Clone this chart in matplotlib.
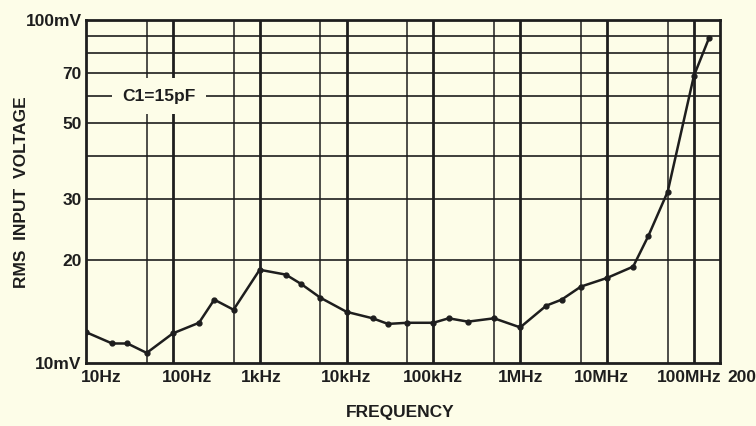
import numpy as np
import matplotlib
matplotlib.use("Agg")
import matplotlib.pyplot as plt
from matplotlib.ticker import FixedLocator, NullFormatter

plt.rcParams['font.family'] = ['Liberation Sans Narrow', 'Liberation Sans', 'DejaVu Sans']
plt.rcParams['font.weight'] = 'bold'

# frequency (Hz) and rms input voltage (mV)
freq = [10, 20, 30, 50, 100, 200, 300, 500,
        1e3, 2e3, 3e3, 5e3, 10e3, 20e3, 30e3, 50e3, 100e3, 150e3, 250e3, 500e3,
        1e6, 2e6, 3e6, 5e6, 10e6, 20e6, 30e6, 50e6, 100e6, 150e6]
volt = [12.3, 11.4, 11.4, 10.7, 12.2, 13.1, 15.3, 14.3,
        18.7, 18.1, 17.0, 15.5, 14.1, 13.5, 13.0, 13.1, 13.1, 13.5, 13.2, 13.5,
        12.7, 14.7, 15.3, 16.7, 17.7, 19.1, 23.5, 31.6, 68.7, 88.8]

x_labels = ['10Hz', '100Hz', '1kHz', '10kHz', '100kHz', '1MHz', '10MHz', '100MHz', '200']
x_label_pos = [14.8, 145, 1.05e3, 1e4, 1e5, 1e6, 0.85e7, 0.88e8, 3.55e8]
y_ticks = [10, 20, 30, 40, 50, 60, 70, 80, 90, 100]
y_labels = ['10mV', '20', '30', '', '50', '', '70', '', '', '100mV']

bg = '#fdfde8'
ink = '#1e1e1e'
fs = 12.5

fig = plt.figure(figsize=(7.56, 4.26), dpi=100, facecolor=bg)
ax = fig.add_axes([86/756, 1-363/426, (720-86)/756, (363-20)/426])
ax.set_facecolor(bg)
ax.set_xscale('log')
ax.set_yscale('log')
ax.set_xlim(10, 200e6)
ax.set_ylim(10, 100)

# grid: thick decades, thin 5x lines, horizontal every 10 mV
for d in [100, 1e3, 1e4, 1e5, 1e6, 1e7, 1e8]:
    ax.axvline(d, color=ink, lw=2.0, zorder=1)
for d in [50, 500, 5e3, 5e4, 5e5, 5e6, 5e7]:
    ax.axvline(d, color=ink, lw=1.1, zorder=1)
for v in y_ticks[1:-1]:
    ax.axhline(v, color=ink, lw=1.2, zorder=1)

ax.yaxis.set_major_locator(FixedLocator(y_ticks))
ax.yaxis.set_minor_formatter(NullFormatter())
ax.set_yticklabels(y_labels)
ax.set_xticks([])
ax.xaxis.set_minor_formatter(NullFormatter())
ax.tick_params(axis='both', which='both', length=0, labelsize=fs, colors=ink, pad=3)
for lbl in ax.get_yticklabels():
    lbl.set_fontweight('bold')

for s in ax.spines.values():
    s.set_linewidth(2.0)
    s.set_color(ink)

for lab, pos in zip(x_labels, x_label_pos):
    ax.text(pos, -0.02, lab, transform=ax.get_xaxis_transform(), ha='center', va='top',
            fontsize=fs, fontweight='bold', color=ink, clip_on=False)

ax.plot(freq, volt, color=ink, lw=1.8, marker='o', markersize=3.5, zorder=3)

ax.text(70, 60, 'C1=15pF', ha='center', va='center', fontsize=fs, fontweight='bold',
        color=ink, zorder=4,
        bbox=dict(facecolor=bg, edgecolor='none', boxstyle='square,pad=0.6'))

fig.text(22/756, 1-192/426, 'RMS  INPUT  VOLTAGE', rotation=90, ha='center', va='center',
         fontsize=12.5, fontweight='bold', color=ink)
fig.text(400/756, 1-413/426, 'FREQUENCY', ha='center', va='center',
         fontsize=12.5, fontweight='bold', color=ink)

fig.savefig('out.png', dpi=100, facecolor=bg)
